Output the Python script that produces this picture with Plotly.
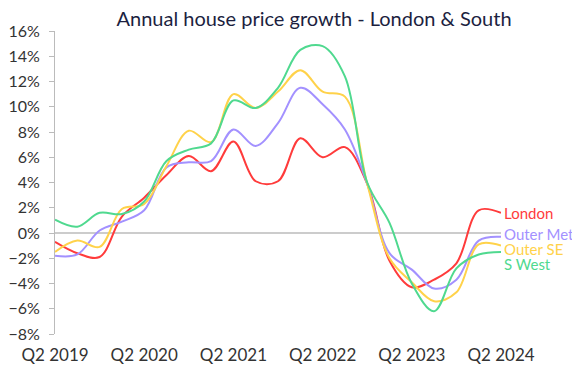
import plotly.graph_objects as go

quarters = ["Q2 2019", "Q3 2019", "Q4 2019", "Q1 2020", "Q2 2020", "Q3 2020", "Q4 2020",
            "Q1 2021", "Q2 2021", "Q3 2021", "Q4 2021", "Q1 2022", "Q2 2022", "Q3 2022",
            "Q4 2022", "Q1 2023", "Q2 2023", "Q3 2023", "Q4 2023", "Q1 2024", "Q2 2024"]
tick_labels = ["Q2 2019", "Q2 2020", "Q2 2021", "Q2 2022", "Q2 2023", "Q2 2024"]

london = [-0.7, -1.6, -1.9, 1.3, 2.8, 4.6, 6.1, 4.9, 7.25, 4.1, 4.1, 7.5, 6.0, 6.8,
          3.9, -2.2, -4.3, -3.7, -2.4, 1.8, 1.6]
outer_met = [-1.8, -1.7, 0.2, 0.9, 1.8, 5.2, 5.6, 5.7, 8.2, 6.9, 8.7, 11.5, 10.2, 8.2,
             3.9, -1.6, -2.9, -4.4, -3.7, -0.6, -0.3]
outer_se = [-1.5, -0.6, -1.1, 1.9, 2.3, 5.3, 8.1, 7.2, 11.0, 9.9, 11.2, 12.9, 11.2, 10.8,
            3.9, -2.0, -3.9, -5.4, -4.7, -0.9, -1.0]
s_west = [1.05, 0.5, 1.6, 1.5, 2.5, 5.7, 6.6, 7.1, 10.5, 9.9, 11.5, 14.5, 14.8, 12.4,
          4.0, 0.8, -4.0, -6.2, -2.8, -1.7, -1.5]

series = [
    ("London", london, "#ff3b3b", 0),
    ("Outer Met", outer_met, "#a391ff", 3),
    ("Outer SE", outer_se, "#ffd24a", -3),
    ("S West", s_west, "#4fd98f", -12),
]

FONT = "Lato"

fig = go.Figure()
for name, vals, color, shift in series:
    fig.add_trace(go.Scatter(x=quarters, y=vals, mode="lines", name=name,
                             line=dict(color=color, width=2, shape="spline", smoothing=1.0),
                             hoverinfo="skip"))
    fig.add_annotation(x=quarters[-1], y=vals[-1], text=name, showarrow=False,
                       xanchor="left", yanchor="middle", xshift=2, yshift=shift,
                       borderpad=0, font=dict(color=color, size=15, family=FONT))

fig.update_layout(
    width=572, height=370,
    margin=dict(l=47, r=79, t=23, b=44, autoexpand=False),
    paper_bgcolor="white", plot_bgcolor="white",
    showlegend=False,
    font=dict(family=FONT, size=16, color="#333333"),
    title=dict(text="Annual house price growth - London & South", x=0.535, xanchor="center",
               y=0.99, yanchor="top", pad=dict(t=0, b=0),
               font=dict(size=20, color="#1c1f3f", family=FONT)),
    xaxis=dict(type="category", range=[0, 20], showgrid=False, showline=False, zeroline=False,
               automargin=False, ticklabelstandoff=9,
               ticks="", tickmode="array", tickvals=tick_labels, ticktext=tick_labels,
               tickangle=0, tickfont=dict(size=17, color="#333333")),
    yaxis=dict(range=[-8, 16], dtick=2, ticksuffix="%", showgrid=False, showline=True,
               automargin=False, ticklabelstandoff=6,
               linecolor="#bbbbbb", linewidth=1, ticks="outside", ticklen=5, tickcolor="#bbbbbb",
               zeroline=True, zerolinecolor="#cccccc", zerolinewidth=2,
               tickfont=dict(size=16, color="#333333")),
)

fig.write_html("out.html")
